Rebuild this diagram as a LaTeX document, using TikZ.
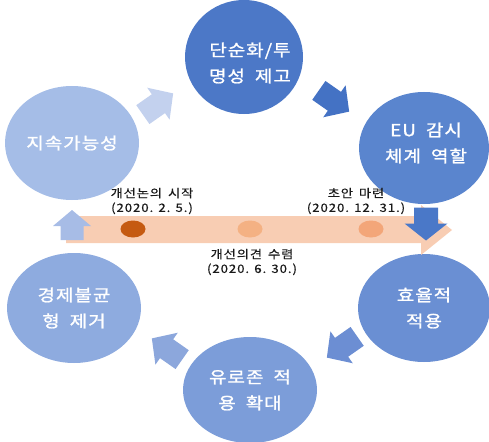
\documentclass[tikz,border=0pt]{standalone}
\usepackage{fontspec}
\usetikzlibrary{shapes.geometric}
\newfontfamily\krfont{Noto Sans CJK KR}[FakeStretch=1.15, LetterSpace=6, FakeBold=1.2]
\newfontfamily\krlab{Noto Sans CJK KR}[FakeStretch=1.15, LetterSpace=8, FakeBold=0.4]
\newcommand{\wsp}{\hspace{10pt}}
\newcommand{\lsp}{\hspace{6pt}}
\definecolor{cA}{HTML}{4C78C7}
\definecolor{cB}{HTML}{5A85CE}
\definecolor{cC}{HTML}{6A8FD3}
\definecolor{cD}{HTML}{7C9DD9}
\definecolor{cE}{HTML}{8EABDF}
\definecolor{cF}{HTML}{A5BDE7}
\definecolor{aA}{HTML}{C3D1EE}
\definecolor{aB}{HTML}{4472C4}
\definecolor{aC}{HTML}{4A78C8}
\definecolor{aD}{HTML}{6C8ED3}
\definecolor{aE}{HTML}{8CA7DC}
\definecolor{aF}{HTML}{A7BCE6}
\definecolor{barc}{HTML}{F8CDB3}
\definecolor{dotA}{HTML}{C55A11}
\definecolor{dotB}{HTML}{F4B183}
\definecolor{dotC}{HTML}{F3A679}
\tikzset{
  circ/.style={ellipse, inner sep=0pt, text=white, align=center,
    font=\krfont\fontsize{16.5}{26}\selectfont},
  lab/.style={inner sep=0pt, text=black!90, align=center,
    font=\krlab\fontsize{11.5}{14.5}\selectfont},
  dotm/.style={ellipse, inner sep=0pt, minimum width=25pt, minimum height=17pt},
}
% \barrow{x}{y}{angle}{color}{length}{shaft}{head width}{head length}
\newcommand{\barrow}[8]{%
  \begin{scope}[shift={(#1,#2)}, rotate=#3]
    \fill[#4] (-#5/2,-#6/2) -- (#5/2-#8,-#6/2) -- (#5/2-#8,-#7/2) -- (#5/2,0)
      -- (#5/2-#8,#7/2) -- (#5/2-#8,#6/2) -- (-#5/2,#6/2) -- cycle;
  \end{scope}}
\begin{document}
\begin{tikzpicture}[x=1pt,y=-1pt]
\useasboundingbox (0,0) rectangle (489,441);
% circles
\node[circ, fill=cA, minimum width=118pt, minimum height=114pt] (c1) at (244,57) {};
\node[circ, text=white] (t1) at (250,63) {단순화/투\\명성\wsp 제고};
\node[circ, fill=cB, minimum width=130pt, minimum height=112pt] (c2) at (424,148) {};
\node[circ] (t2) at (426,143) {EU\wsp 감시\\체계\wsp 역할};
\node[circ, fill=cC, minimum width=132pt, minimum height=108pt] (c3) at (424,308) {효율적\\적용};
\node[circ, fill=cD, minimum width=134pt, minimum height=106pt] (c4) at (250,390) {유로존\wsp 적\\용\wsp 확대};
\node[circ, fill=cE, minimum width=134pt, minimum height=110pt] (c5) at (74,308) {경제불균\\형\wsp 제거};
\node[circ, fill=cF, minimum width=134pt, minimum height=114pt] (c6) at (72,143) {지속가능성};
% timeline
\fill[barc] (66,216) -- (421,216) -- (421,205) -- (452,230) -- (421,255) -- (421,243) -- (66,243) -- cycle;
\node[dotm, fill=dotA] (d1) at (133,229) {};
\node[dotm, fill=dotB] (d2) at (250,229) {};
\node[dotm, fill=dotC] (d3) at (371,229) {};
% cycle arrows
\barrow{158}{104}{35}{aA}{37}{23}{39}{18}
\barrow{334}{101}{-35}{aB}{37}{23}{39}{18}
\barrow{426}{224}{-90}{aC}{33}{24}{43}{17}
\barrow{342}{347}{-145}{aD}{37}{23}{39}{18}
\barrow{167}{349}{145}{aE}{37}{23}{39}{18}
\barrow{72}{225}{90}{aF}{30}{23}{38}{16}
% labels
\node[lab] (l1) at (152,201) {개선논의\lsp 시작\\(2020. 2. 5.)};
\node[lab] (l2) at (356,201) {초안\lsp 마련\\(2020. 12. 31.)};
\node[lab] (l3) at (252,262) {개선의견\lsp 수렴\\(2020. 6. 30.)};
\end{tikzpicture}
\end{document}
